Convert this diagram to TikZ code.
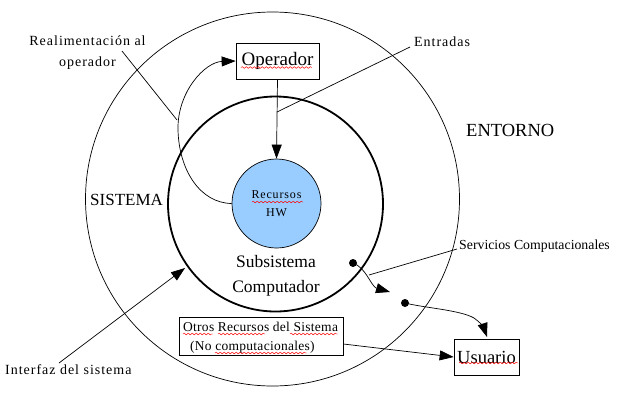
\documentclass[tikz,border=0pt]{standalone}
\usepackage{fontspec}
\setmainfont{Liberation Serif}
\newfontfamily\widefont[LetterSpace=7]{Liberation Serif}
\newfontfamily\midfont[LetterSpace=2]{Liberation Serif}
\usetikzlibrary{arrows.meta,decorations.pathmorphing}
\definecolor{hwblue}{HTML}{99CCFF}
\tikzset{
  thin line/.style={line width=0.7pt},
  arr/.style={thin line,-{Triangle[length=14pt,width=10pt]}},
  box/.style={draw,thin line,inner sep=0pt},
  lbl/.style={inner sep=0pt,font=\widefont\fontsize{14}{21}\selectfont},
  big/.style={inner sep=0pt,font=\fontsize{17.5}{20}\selectfont},
  squig/.style={draw=red,line width=0.45pt,decorate,decoration={snake,segment length=4pt,amplitude=0.9pt}},
  dot/.style={circle,fill=black,inner sep=0pt,minimum size=8pt}
}
\begin{document}
\begin{tikzpicture}[x=1pt,y=-1pt]
\useasboundingbox (0,0) rectangle (618,400);
% circles
\node[thin line,draw,circle,minimum size=374pt,inner sep=0pt] (outer) at (272.5,199) {};
\node[line width=1.8pt,draw,circle,minimum size=215pt,inner sep=0pt] (inner) at (275.5,204) {};
\node[thin line,draw,circle,fill=hwblue,minimum size=89pt,inner sep=0pt,align=center,
      font=\widefont\fontsize{12}{18}\selectfont] (hw) at (276.5,203.5) {Recursos\\HW};
% boxes
\node[box,minimum width=83pt,minimum height=36pt,font=\fontsize{19}{22}\selectfont] (op) at (277.5,61) {Operador};
\node[box,minimum width=65pt,minimum height=36pt,font=\fontsize{18.5}{22}\selectfont] (us) at (486.5,357) {Usuario};
\node[box,minimum width=164pt,minimum height=38pt] (otros) at (261,336) {};
\node[inner sep=0pt,anchor=base west,font=\midfont\fontsize{13.5}{16}\selectfont] (otros1) at (183,331) {Otros Recursos del Sistema};
\node[inner sep=0pt,anchor=base west,font=\midfont\fontsize{13.5}{16}\selectfont] (otros2) at (190,350) {(No computacionales)};
% labels
\node[lbl,align=center,anchor=base] (realim) at (87.5,66) {Realimentación al\\operador};
\node[lbl,anchor=base west] (entr) at (414,46) {Entradas};
\node[big,anchor=base west,font=\fontsize{18.5}{22}\selectfont] (entorno) at (466,136) {ENTORNO};
\node[big,anchor=base west,font=\fontsize{17}{20}\selectfont] (sistema) at (90,205) {SISTEMA};
\node[big,anchor=base] (subs) at (276,267) {Subsistema};
\node[big,anchor=base] (comp) at (276,292) {Computador};
\node[inner sep=0pt,anchor=base west,font=\fontsize{13.8}{16}\selectfont] (serv) at (459,249) {Servicios Computacionales};
\node[lbl,anchor=base west] (interf) at (5,374) {Interfaz del sistema};
% coordinates
\coordinate (realimEnd) at (177,120);
\coordinate (realimStart) at (122,51);
\coordinate (entrStart) at (410,47);
\coordinate (entrEnd) at (277,112);
\coordinate (interfStart) at (59,363);
\coordinate (interfEnd) at (185,268);
\coordinate (servStart) at (457,249);
\coordinate (servEnd) at (369,275);
\coordinate (tip1) at (390,292);
\coordinate (tip2) at (487,337);
\node[dot] (d1) at (353,263) {};
\node[dot] (d2) at (405,303) {};
% connectors
\draw[arr] (op.south) -- (hw.north);
\draw[arr] (hw.west) .. controls (200,203) and (179,170) .. (178,130) .. controls (177,92) and (205,62) .. (op.west);
\draw[thin line] (realimStart) -- (realimEnd);
\draw[thin line] (entrStart) -- (entrEnd);
\draw[arr] (interfStart) -- (interfEnd);
\draw[thin line] (servStart) -- (servEnd);
\draw[arr] (d1.center) .. controls (366,268) and (370,284) .. (376,288) -- (tip1);
\draw[arr] (d2.center) .. controls (425,308) and (460,310) .. (474,318) .. controls (480,322) and (484,328) .. (tip2);
\draw[arr] (otros.east |- 0,344) -- (us.west);
% spell-check squiggles
\draw[squig] (241,67.5) -- (312,67.5);
\draw[squig] (459,363) -- (518,363);
\draw[squig] (252,202) -- (303,202);
\draw[squig] (183,334) -- (213,334);
\draw[squig] (218,334) -- (265,334);
\draw[squig] (290,334) -- (338,334);
\draw[squig] (215,353) -- (307,353);
\end{tikzpicture}
\end{document}
